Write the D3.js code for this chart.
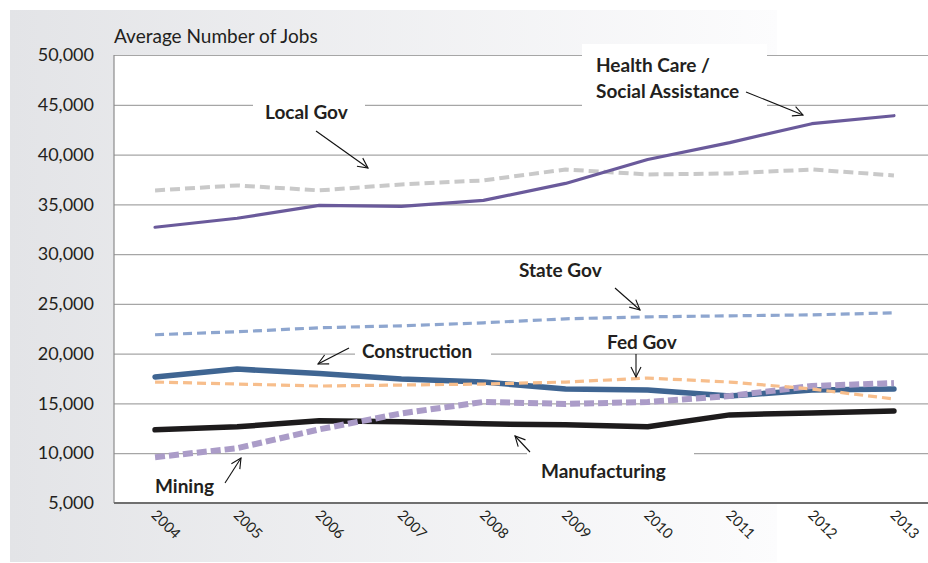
<!DOCTYPE html>
<html><head><meta charset="utf-8">
<script src="https://cdn.jsdelivr.net/npm/d3@7"></script>
<style>
html,body{margin:0;padding:0;background:#fff;}
svg{display:block;font-family:Lato,"Open Sans",sans-serif;}
</style></head>
<body><svg id="c" width="928" height="563"></svg>
<script>
const years = [2004,2005,2006,2007,2008,2009,2010,2011,2012,2013];
const yTicks = [5000,10000,15000,20000,25000,30000,35000,40000,45000,50000];
const healthCare   = [32700,33600,34900,34800,35400,37100,39500,41200,43100,43900];
const localGov     = [36400,36900,36400,37000,37400,38500,38000,38100,38500,37900];
const stateGov     = [21900,22200,22600,22800,23100,23500,23700,23800,23900,24100];
const construction = [17650,18450,18000,17450,17150,16450,16350,15750,16350,16450];
const fedGov       = [17150,16950,16750,16850,16950,17150,17550,17150,16450,15450];
const mining       = [9600,10500,12400,14000,15150,14950,15150,15750,16750,17050];
const manufacturing= [12350,12650,13250,13150,12950,12850,12650,13850,14050,14250];

const svg = d3.select("#c");
const W=928,H=563;
const m = {left:114, top:55, right:935, bottom:503};

const defs = svg.append("defs");
const g1 = defs.append("linearGradient").attr("id","bg").attr("x1","0").attr("x2","1").attr("y1","0").attr("y2","0");
g1.append("stop").attr("offset","0").attr("stop-color","#e3e4e7");
g1.append("stop").attr("offset","1").attr("stop-color","#fcfcfd");
svg.append("rect").attr("x",10).attr("y",10).attr("width",767).attr("height",552).attr("fill","url(#bg)");

defs.append("marker").attr("id","arr").attr("viewBox","0 0 12 12").attr("refX",11).attr("refY",6)
  .attr("markerWidth",12).attr("markerHeight",12).attr("markerUnits","userSpaceOnUse").attr("orient","auto")
  .append("path").attr("d","M1,1 L11,6 L1,11").attr("fill","none").attr("stroke","#111").attr("stroke-width",1.1);

const x = d3.scalePoint().domain(years).range([m.left, m.right]).padding(0.5);
const y = d3.scaleLinear().domain([5000,50000]).range([m.bottom, m.top]);

svg.append("rect").attr("x",m.left).attr("y",m.top).attr("width",W-m.left).attr("height",m.bottom-m.top).attr("fill","#fff");

svg.append("g").attr("transform",`translate(${m.left},0)`)
  .call(d3.axisLeft(y).tickValues(yTicks).tickSize(-(W-m.left)).tickFormat(""))
  .call(g=>g.select(".domain").remove())
  .call(g=>g.selectAll("line").attr("stroke","#a6a6a6").attr("stroke-width",1.2));

svg.append("g").attr("transform",`translate(${m.left},0)`)
  .call(d3.axisLeft(y).tickValues(yTicks).tickSize(0).tickPadding(20).tickFormat(d3.format(",")))
  .call(g=>g.select(".domain").remove())
  .call(g=>g.selectAll("text").attr("font-size",18).attr("fill","#231f20").attr("font-family","Lato, sans-serif"));

svg.append("line").attr("x1",m.left).attr("x2",m.left).attr("y1",m.top).attr("y2",m.bottom).attr("stroke","#8c8c8c").attr("stroke-width",1.2);

const xa = svg.append("g").attr("transform",`translate(0,${m.bottom})`)
  .call(d3.axisBottom(x).tickSize(0).tickPadding(0).tickFormat(d3.format("d")));
xa.select(".domain").remove();
xa.selectAll("text").attr("font-size",14.5).attr("fill","#231f20").attr("font-family","Lato, sans-serif")
  .attr("text-anchor","start").attr("dy",0)
  .attr("transform","translate(-5,13) rotate(45)");
svg.append("line").attr("x1",m.left).attr("x2",W).attr("y1",m.bottom).attr("y2",m.bottom).attr("stroke","#6f6f6f").attr("stroke-width",2);

svg.append("text").attr("x",m.left).attr("y",43).attr("font-size",19).attr("fill","#231f20").text("Average Number of Jobs");

const boxes = [[253,95,112,30],[582,44,185,62],[355,338,136,28],[527,448,167,38]];
svg.selectAll("rect.box").data(boxes).join("rect").attr("class","box")
  .attr("x",d=>d[0]).attr("y",d=>d[1]).attr("width",d=>d[2]).attr("height",d=>d[3]).attr("fill","#fff");

const series = [
  {name:"Local Gov", values:localGov, color:"#c9c9c9", w:4, dash:"10,5"},
  {name:"Health Care", values:healthCare, color:"#6a5a9b", w:3.2, dash:null},
  {name:"State Gov", values:stateGov, color:"#8ea6cf", w:3.2, dash:"9,5"},
  {name:"Manufacturing", values:manufacturing, color:"#1d1b1c", w:5.5, dash:null},
  {name:"Construction", values:construction, color:"#3f6592", w:5.5, dash:null},
  {name:"Mining", values:mining, color:"#ab9cc8", w:6, dash:"10,4"},
  {name:"Fed Gov", values:fedGov, color:"#f7be8c", w:3.2, dash:"9,5"}
];
const line = d3.line().x((d,i)=>x(years[i])).y(d=>y(d));
svg.append("g").selectAll("path").data(series).join("path")
  .attr("d",d=>line(d.values)).attr("fill","none").attr("stroke",d=>d.color)
  .attr("stroke-width",d=>d.w).attr("stroke-dasharray",d=>d.dash)
  .attr("stroke-linejoin","round").attr("stroke-linecap",d=>d.dash?"butt":"round");

const labels = [
  {t:"Local Gov", x:265, y:119},
  {t:"Health Care /", x:596, y:72},
  {t:"Social Assistance", x:596, y:98},
  {t:"State Gov", x:519, y:277},
  {t:"Construction", x:362, y:358},
  {t:"Fed Gov", x:607, y:349},
  {t:"Manufacturing", x:541, y:478},
  {t:"Mining", x:155, y:493}
];
svg.selectAll("text.lab").data(labels).join("text").attr("class","lab")
  .attr("x",d=>d.x).attr("y",d=>d.y).attr("font-size",19).attr("font-weight","bold").attr("fill","#231f20").text(d=>d.t);

const arrows = [[316,131,368,168],[746,92,803,115],[615,288,640,310],[349,348,318,364],[636,354,636,377],[530,452,515,436],[225,483,241,458]];
svg.selectAll("line.arr").data(arrows).join("line").attr("class","arr")
  .attr("x1",d=>d[0]).attr("y1",d=>d[1]).attr("x2",d=>d[2]).attr("y2",d=>d[3])
  .attr("stroke","#111").attr("stroke-width",1.1).attr("marker-end","url(#arr)");
</script></body></html>
